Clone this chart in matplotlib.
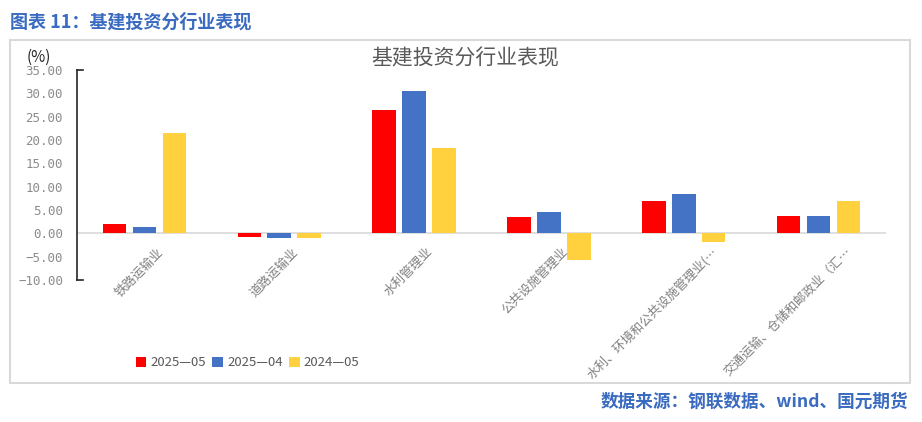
import matplotlib
matplotlib.use("Agg")
import matplotlib.pyplot as plt
import numpy as np
from matplotlib.patches import Rectangle

plt.rcParams['font.family'] = ['Noto Sans CJK SC', 'DejaVu Sans']
plt.rcParams['axes.unicode_minus'] = False

cats = ["铁路运输业", "道路运输业", "水利管理业", "公共设施管理业",
        "水利、环境和公共设施管理业(…", "交通运输、仓储和邮政业（汇…"]
v2505 = [2.1, -0.8, 26.5, 3.6, 6.9, 3.8]
v2504 = [1.4, -1.1, 30.5, 4.6, 8.4, 3.8]
v2405 = [21.6, -1.1, 18.3, -5.7, -1.8, 6.9]
series = ["2025—05", "2025—04", "2024—05"]
colors = ["#FF0000", "#4472C4", "#FFD13F"]
yticks = np.arange(-10, 35.1, 5)

fig = plt.figure(figsize=(9.22, 4.22), dpi=100)

# outer frame
fig.patches.append(Rectangle((10/922, 1-383/422), 900/922, 343/422,
                             transform=fig.transFigure, fill=False,
                             edgecolor="#d9d9d9", linewidth=1.5))

ax = fig.add_axes([77/922, 1-280/422, 809/922, 210/422])
x = np.arange(len(cats))
w = 0.175
step = 0.222
for k, (vals, c) in enumerate(zip([v2505, v2504, v2405], colors)):
    ax.bar(x + (k-1)*step, vals, w, color=c, label=series[k], zorder=3)

ax.set_xlim(-0.5, len(cats)-0.5)
ax.set_ylim(-10, 35)
ax.set_yticks(yticks)
ax.set_yticklabels(["%.2f" % t if t >= 0 else "−%.2f" % -t for t in yticks],
                   color="#8c8c8c", fontsize=9, family="DejaVu Sans Mono")
ax.tick_params(axis='y', length=0, pad=10)
ax.set_xticks([])
for s in ["top", "right", "bottom"]:
    ax.spines[s].set_visible(False)
ax.spines["left"].set_color("#262626")
ax.spines["left"].set_linewidth(1.2)
ax.axhline(0, color="#d9d9d9", linewidth=1.2, zorder=2)
tr = ax.get_yaxis_transform()
ax.plot([0, 0.007], [35, 35], color="#262626", lw=1.2, transform=tr, clip_on=False)
ax.plot([0, 0.007], [-10, -10], color="#262626", lw=1.2, transform=tr, clip_on=False)

for i, c in enumerate(cats):
    off = 0.2 if c.endswith("…") else 0.09
    ax.text(i + off, -2.6, c, rotation=45, ha="right", va="top",
            rotation_mode="anchor", fontsize=9, color="#7f7f7f")

fig.text(27/922, 1-57/422, "(%)", ha="left", va="center",
         fontsize=11, color="#262626")

fig.text(465/922, 1-58/422, "基建投资分行业表现", ha="center", va="center",
         fontsize=15, color="#595959")
fig.text(10/922, 1-22/422, "图表 11：基建投资分行业表现", ha="left", va="center",
         fontsize=13, color="#3A6BC0", fontweight="bold")
fig.text(908/922, 1-402/422, "数据来源：钢联数据、wind、国元期货", ha="right",
         va="center", fontsize=12.7, color="#3A6BC0", fontweight="bold")

leg = fig.legend(loc="center left", bbox_to_anchor=(124/922, 1-363/422), ncol=3,
                 frameon=False, fontsize=9.5, handlelength=0.8, handleheight=0.8,
                 handletextpad=0.3, columnspacing=0.5)
for t in leg.get_texts():
    t.set_color("#595959")

fig.savefig("out.png", dpi=100)
